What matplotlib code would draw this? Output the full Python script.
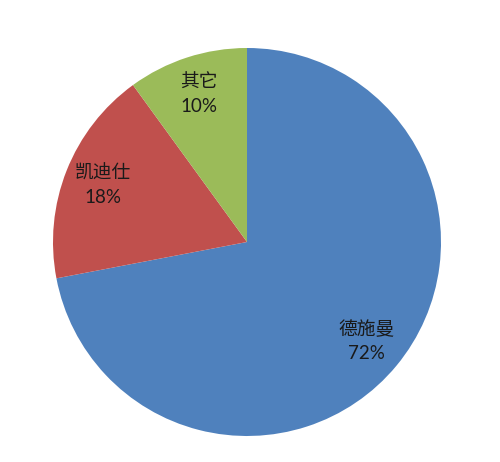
import matplotlib
matplotlib.use('Agg')
from matplotlib import pyplot as plt

plt.rcParams['font.family'] = ['Lato', 'Noto Sans CJK SC', 'DejaVu Sans']

names = ['德施曼', '凯迪仕', '其它']
shares = [72, 18, 10]
colors = ['#4F81BD', '#C0504D', '#9BBB59']

fig = plt.figure(figsize=(5, 4.62), dpi=100)
# pie centre at about (247, 242) px, radius about 194 px
ax = fig.add_axes([(247 - 194) / 500, (462 - 242 - 194) / 462, 388 / 500, 388 / 462])

wedges, texts = ax.pie(shares, colors=colors, startangle=90, counterclock=False,
                       labels=[n + '\n' + str(s) + '%' for n, s in zip(names, shares)],
                       labeldistance=0.8, radius=1,
                       textprops=dict(fontsize=13.5, color='#1a1a1a', ha='center', va='center',
                                      linespacing=1.5))
for t in texts:
    t.set_horizontalalignment('center')
ax.set_xlim(-1, 1)
ax.set_ylim(-1, 1)
ax.set_aspect('equal')
ax.axis('off')

fig.savefig('out.png', dpi=100)
